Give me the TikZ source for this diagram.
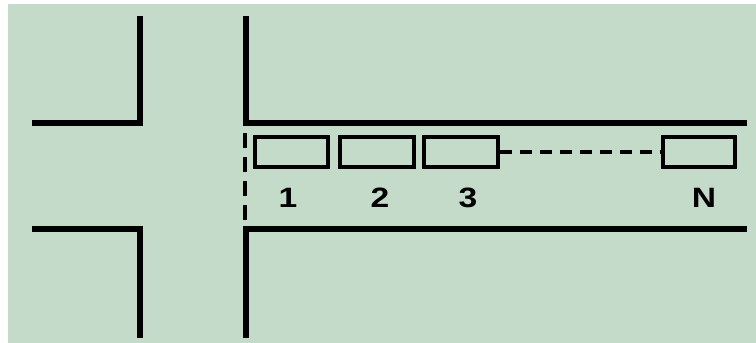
\documentclass[tikz,border=0pt]{standalone}
\usepackage{fontspec}
\setmainfont{Liberation Sans}
\definecolor{bggreen}{HTML}{C4DBCA}
\newcommand{\widelbl}[1]{\scalebox{1.2}[1]{#1}}
\begin{document}
\begin{tikzpicture}[x=1pt,y=-1pt,
  road/.style={line width=5.2pt},
  car/.style={draw,line width=3.6pt,minimum width=70pt,minimum height=30pt,inner sep=0pt},
  stopline/.style={line width=4pt,dash pattern=on 15pt off 9pt},
  gapline/.style={line width=3.6pt,dash pattern=on 12pt off 8pt},
  lbl/.style={font=\fontsize{28}{28}\selectfont\bfseries,inner sep=0pt}]
\useasboundingbox (0,0) rectangle (756,343);
\fill[white] (0,0) rectangle (756,343);
\fill[bggreen] (8,4) rectangle (756,343);
% left corners
\draw[road] (140,16) -- (140,123) -- (32,123);
\draw[road] (32,229) -- (140,229) -- (140,338);
% right side
\draw[road] (246,16) -- (246,123) -- (747,123);
\draw[road] (246,338) -- (246,229) -- (747,229);
% stop line
\coordinate (s1) at (245,133);
\coordinate (s2) at (245,222);
\draw[stopline] (s1) -- (s2);
% cars
\node[car,minimum width=73pt] (c1) at (291.5,152) {};
\node[car,minimum width=74pt] (c2) at (377,152) {};
\node[car,minimum width=74pt] (c3) at (461,152) {};
\node[car,minimum width=72pt] (cn) at (699,152) {};
\draw[gapline] (c3.east) -- (cn.west);
% labels
\node[lbl] (l1) at (288,198) {\widelbl{1}};
\node[lbl] (l2) at (380,198) {\widelbl{2}};
\node[lbl] (l3) at (468,198) {\widelbl{3}};
\node[lbl] (ln) at (704,198) {\widelbl{N}};
\end{tikzpicture}
\end{document}
